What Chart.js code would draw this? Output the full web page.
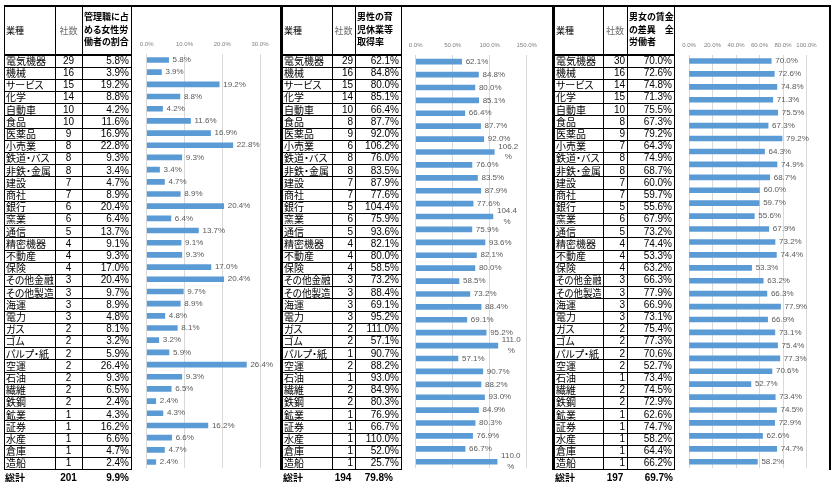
<!DOCTYPE html>
<html lang="ja">
<head>
<meta charset="UTF-8">
<title>業種別 女性活躍関連指標</title>
<script src="https://cdn.jsdelivr.net/npm/chart.js"></script>
<style>
  body {
    margin: 0;
    width: 831px;
    height: 482px;
    position: relative;
    overflow: hidden;
    background: #ffffff;
    font-family: "Noto Sans CJK JP", sans-serif;
    color: #000;
  }
  .ln { position: absolute; background: #000; }
  .txt {
    position: absolute;
    white-space: nowrap;
    font-size: 10px;
    font-feature-settings: "palt";
  }
  .txt span { display: inline-block; transform-origin: left center; }
  .num { font-family: "Liberation Sans", Arial, sans-serif; }
  .hd { font-size: 9px; }
  .hd3 { font-size: 9px; font-weight: bold; line-height: 12.7px; }
  .tot { font-weight: bold; }
  canvas { position: absolute; }
</style>
</head>
<body>
<canvas id="c1"></canvas>
<canvas id="c2"></canvas>
<canvas id="c3"></canvas>
<script>
// ---- data ----
const industries = ['電気機器','機械','サービス','化学','自動車','食品','医薬品','小売業','鉄道・バス','非鉄・金属',
  '建設','商社','銀行','窯業','通信','精密機器','不動産','保険','その他金融','その他製造',
  '海運','電力','ガス','ゴム','パルプ・紙','空運','石油','繊維','鉄鋼','鉱業',
  '証券','水産','倉庫','造船'];

const mgrCount = [29,16,15,14,10,10,9,8,8,8,7,7,6,6,5,4,4,4,3,3,3,3,2,2,2,2,2,2,2,1,1,1,1,1];
const mgrRate = [5.8,3.9,19.2,8.8,4.2,11.6,16.9,22.8,9.3,3.4,4.7,8.9,20.4,6.4,13.7,9.1,9.3,17.0,20.4,9.7,
  8.9,4.8,8.1,3.2,5.9,26.4,9.3,6.5,2.4,4.3,16.2,6.6,4.7,2.4];

const leaveCount = [29,16,15,14,10,8,9,6,8,8,7,7,5,6,5,4,4,4,3,3,3,3,2,2,1,2,1,2,2,1,1,1,1,1];
const leaveRate = [62.1,84.8,80.0,85.1,66.4,87.7,92.0,106.2,76.0,83.5,87.9,77.6,104.4,75.9,93.6,82.1,80.0,58.5,73.2,88.4,
  69.1,95.2,111.0,57.1,90.7,88.2,93.0,84.9,80.3,76.9,66.7,110.0,52.0,25.7];

const wageCount = [30,16,14,15,10,8,9,7,8,8,7,7,5,6,5,4,4,4,3,3,3,3,2,2,2,2,1,2,2,1,1,1,1,1];
const wageGap = [70.0,72.6,74.8,71.3,75.5,67.3,79.2,64.3,74.9,68.7,60.0,59.7,55.6,67.9,73.2,74.4,53.3,63.2,66.3,77.9,
  66.9,73.1,75.4,77.3,70.6,52.7,73.4,74.5,72.9,62.6,74.7,58.2,64.4,66.2];

const totals = { mgr: ['201', '9.9%'], leave: ['194', '79.8%'], wage: ['197', '69.7%'] };

// ---- table layout ----
const rowTop = 54.3, rowH = 12.2, tableTop = 5;
const tableBottom = rowTop + industries.length * rowH;

function line(x, y, w, h) {
  const d = document.createElement('div');
  d.className = 'ln';
  d.style.left = x + 'px'; d.style.top = y + 'px';
  d.style.width = w + 'px'; d.style.height = h + 'px';
  document.body.appendChild(d);
}
function text(str, x, y, w, h, align, cls) {
  const d = document.createElement('div');
  d.className = 'txt ' + (cls || '');
  const sp = document.createElement('span');
  sp.textContent = str;
  d.appendChild(sp);
  d.style.left = x + 'px'; d.style.top = y + 'px';
  d.style.width = w + 'px'; d.style.height = h + 'px';
  d.style.lineHeight = h + 'px';
  d.style.textAlign = align;
  document.body.appendChild(d);
  // squeeze long names so they stay inside the cell
  if (align === 'left' && sp.offsetWidth > w - 1) {
    sp.style.transform = 'scaleX(' + ((w - 1) / sp.offsetWidth).toFixed(3) + ')';
  }
  return d;
}

function drawTable(p) {
  const [x0, x1, x2, x3, x4] = p.cols;
  // verticals
  [x0, x1, x2, x3].forEach(x => line(x, tableTop, 1, tableBottom - tableTop + 1));
  line(x4, tableTop, 2, tableBottom - tableTop + 1);
  // row lines
  for (let k = 0; k <= industries.length; k++) {
    line(x0, rowTop + k * rowH, x3 - x0 + 1, k === 0 ? 1.5 : 1);
  }
  // header
  text('業種', x0 + 2, 24, x1 - x0 - 2, 14, 'left', 'hd');
  const s = text('社数', x1, 24, x2 - x1, 14, 'center', 'hd');
  s.style.color = '#6b6b6b';
  const h = document.createElement('div');
  h.className = 'txt hd3';
  h.style.left = (x2 + 2) + 'px'; h.style.top = '11px';
  h.innerHTML = p.header.join('<br>');
  document.body.appendChild(h);
  // rows
  industries.forEach((name, i) => {
    const y = rowTop + i * rowH + 0.5;
    text(name, x0 + 2, y, x1 - x0 - 2, rowH, 'left');
    text(String(p.count[i]), x1, y, x2 - x1 - (p.countAlign === 'right' ? 2 : 0), rowH, p.countAlign, 'num');
    text(p.values[i].toFixed(1) + '%', x2, y, x3 - x2 - 2, rowH, 'right', 'num');
  });
  // total
  const ty = 470.5;
  text('総計', x0 + 1, ty, 30, 13, 'left', 'tot');
  text(p.total[0], p.totalPos[0] - 20, ty, 40, 13, 'center', 'tot num');
  text(p.total[1], p.totalPos[1] - 50, ty, 50, 13, 'right', 'tot num');
}

const panels = [
  { cols: [4, 55, 82, 131, 280], header: ['管理職に占', 'める女性労', '働者の割合'],
    count: mgrCount, values: mgrRate, countAlign: 'center', total: totals.mgr, totalPos: [68.5, 129] },
  { cols: [282, 332, 355, 401, 552], header: ['男性の育', '児休業等', '取得率'],
    count: leaveCount, values: leaveRate, countAlign: 'right', total: totals.leave, totalPos: [343, 393] },
  { cols: [554, 603, 627, 674, 829], header: ['男女の賃金', 'の差異　全', '労働者'],
    count: wageCount, values: wageGap, countAlign: 'right', total: totals.wage, totalPos: [615, 673] }
];
line(4, tableTop, 826, 1.5);
panels.forEach(drawTable);

// ---- charts ----
const barLabels = {
  id: 'barLabels',
  afterDatasetsDraw(chart) {
    const ctx = chart.ctx;
    const meta = chart.getDatasetMeta(0);
    const data = chart.data.datasets[0].data;
    ctx.save();
    ctx.font = '8px "Liberation Sans", Arial, sans-serif';
    ctx.fillStyle = '#595959';
    ctx.textBaseline = 'middle';
    meta.data.forEach((bar, i) => {
      const v = data[i];
      const s = v.toFixed(1);
      if (v >= 100) {
        const w = ctx.measureText(s).width;
        ctx.textAlign = 'center';
        ctx.fillText(s, bar.x + 4 + w / 2, bar.y - 5.5);
        ctx.fillText('%', bar.x + 4 + w / 2, bar.y + 5);
      } else {
        ctx.textAlign = 'left';
        ctx.fillText(s + '%', bar.x + 4, bar.y);
      }
    });
    ctx.restore();
  }
};

function makeChart(id, box, plot, labels, values, max, step) {
  const cv = document.getElementById(id);
  cv.style.left = box.x + 'px';
  cv.style.top = box.y + 'px';
  cv.width = box.w; cv.height = box.h;
  cv.style.width = box.w + 'px'; cv.style.height = box.h + 'px';
  return new Chart(cv, {
    type: 'bar',
    data: {
      labels: labels,
      datasets: [{ data: values, backgroundColor: '#5B9BD5', barThickness: 5 }]
    },
    options: {
      indexAxis: 'y',
      responsive: false,
      animation: false,
      layout: {
        padding: {
          left: plot.left - box.x,
          right: box.x + box.w - plot.right,
          top: plot.top - box.y - 14,
          bottom: box.y + box.h - plot.bottom
        }
      },
      plugins: { legend: { display: false }, tooltip: { enabled: false } },
      scales: {
        x: {
          position: 'top',
          min: 0, max: max,
          afterFit(s) { s.height = 14; },
          ticks: {
            stepSize: step,
            autoSkip: false,
            maxRotation: 0,
            padding: 6,
            color: '#7f7f7f',
            font: { size: 6, family: '"Liberation Sans", Arial, sans-serif' },
            callback: v => Number(v).toFixed(1) + '%'
          },
          grid: { color: '#d9d9d9', drawTicks: false },
          border: { display: false }
        },
        y: { display: false }
      }
    },
    plugins: [barLabels]
  });
}

makeChart('c1', { x: 132, y: 6, w: 148, h: 463 }, { left: 146.7, right: 260, top: 53.9, bottom: 468.1 },
  industries, mgrRate, 30, 10);
makeChart('c2', { x: 402, y: 6, w: 150, h: 463 }, { left: 415.7, right: 526.7, top: 55.2, bottom: 468.2 },
  industries.slice(0, 32), leaveRate.slice(0, 32), 150, 50);
makeChart('c3', { x: 675, y: 6, w: 154, h: 463 }, { left: 689, right: 806.5, top: 54.5, bottom: 468.2 },
  industries.slice(0, 32), wageGap.slice(0, 32), 100, 20);
</script>
</body>
</html>
